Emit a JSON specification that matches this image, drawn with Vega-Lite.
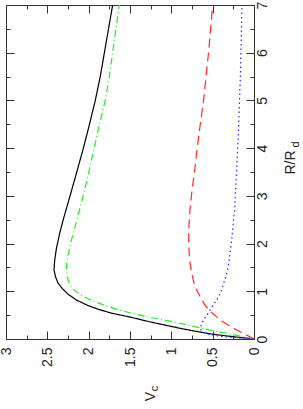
{
  "$schema": "https://vega.github.io/schema/vega-lite/v6.json",
  "width": 248,
  "height": 334,
  "autosize": "none",
  "padding": {"left": 6, "top": 5, "right": 49, "bottom": 70},
  "background": "white",
  "config": {
    "view": {"stroke": "#333333", "strokeWidth": 1},
    "axis": {"domain": false, "grid": false, "tickColor": "#333333", "tickWidth": 1,
      "labelFont": "Liberation Sans", "labelFontSize": 14, "labelColor": "#222222",
      "titleFont": "Liberation Sans", "titleFontSize": 14, "titleColor": "#222222", "titleFontWeight": "normal",
      "titleAngle": -90, "titleAlign": "center", "titleBaseline": "middle"}
  },
  "data": {"values": [
    {"series": "total", "R": 0, "V": 0},
    {"series": "total", "R": 0.05, "V": 0.26},
    {"series": "total", "R": 0.10, "V": 0.50},
    {"series": "total", "R": 0.16, "V": 0.70},
    {"series": "total", "R": 0.23, "V": 0.91},
    {"series": "total", "R": 0.30, "V": 1.10},
    {"series": "total", "R": 0.36, "V": 1.26},
    {"series": "total", "R": 0.46, "V": 1.50},
    {"series": "total", "R": 0.54, "V": 1.72},
    {"series": "total", "R": 0.62, "V": 1.88},
    {"series": "total", "R": 0.71, "V": 2.02},
    {"series": "total", "R": 0.82, "V": 2.15},
    {"series": "total", "R": 0.94, "V": 2.25},
    {"series": "total", "R": 1.06, "V": 2.32},
    {"series": "total", "R": 1.17, "V": 2.37},
    {"series": "total", "R": 1.30, "V": 2.40},
    {"series": "total", "R": 1.45, "V": 2.42},
    {"series": "total", "R": 1.66, "V": 2.41},
    {"series": "total", "R": 1.90, "V": 2.39},
    {"series": "total", "R": 2.22, "V": 2.35},
    {"series": "total", "R": 2.55, "V": 2.30},
    {"series": "total", "R": 2.91, "V": 2.24},
    {"series": "total", "R": 3.40, "V": 2.16},
    {"series": "total", "R": 3.96, "V": 2.07},
    {"series": "total", "R": 4.50, "V": 1.99},
    {"series": "total", "R": 5.00, "V": 1.92},
    {"series": "total", "R": 5.50, "V": 1.86},
    {"series": "total", "R": 6.00, "V": 1.81},
    {"series": "total", "R": 6.50, "V": 1.76},
    {"series": "total", "R": 7.00, "V": 1.71},
    {"series": "halo", "R": 0, "V": 0},
    {"series": "halo", "R": 0.08, "V": 0.22},
    {"series": "halo", "R": 0.17, "V": 0.49},
    {"series": "halo", "R": 0.25, "V": 0.69},
    {"series": "halo", "R": 0.33, "V": 0.90},
    {"series": "halo", "R": 0.44, "V": 1.22},
    {"series": "halo", "R": 0.54, "V": 1.48},
    {"series": "halo", "R": 0.62, "V": 1.66},
    {"series": "halo", "R": 0.70, "V": 1.80},
    {"series": "halo", "R": 0.82, "V": 1.98},
    {"series": "halo", "R": 0.92, "V": 2.10},
    {"series": "halo", "R": 1.03, "V": 2.18},
    {"series": "halo", "R": 1.15, "V": 2.23},
    {"series": "halo", "R": 1.30, "V": 2.26},
    {"series": "halo", "R": 1.50, "V": 2.27},
    {"series": "halo", "R": 1.66, "V": 2.26},
    {"series": "halo", "R": 2.00, "V": 2.22},
    {"series": "halo", "R": 2.45, "V": 2.15},
    {"series": "halo", "R": 2.91, "V": 2.08},
    {"series": "halo", "R": 3.40, "V": 2.01},
    {"series": "halo", "R": 3.96, "V": 1.94},
    {"series": "halo", "R": 4.50, "V": 1.87},
    {"series": "halo", "R": 5.00, "V": 1.80},
    {"series": "halo", "R": 5.50, "V": 1.75},
    {"series": "halo", "R": 6.00, "V": 1.71},
    {"series": "halo", "R": 6.50, "V": 1.67},
    {"series": "halo", "R": 7.00, "V": 1.63},
    {"series": "disk", "R": 0, "V": 0},
    {"series": "disk", "R": 0.10, "V": 0.11},
    {"series": "disk", "R": 0.19, "V": 0.21},
    {"series": "disk", "R": 0.30, "V": 0.32},
    {"series": "disk", "R": 0.40, "V": 0.41},
    {"series": "disk", "R": 0.55, "V": 0.51},
    {"series": "disk", "R": 0.70, "V": 0.59},
    {"series": "disk", "R": 0.88, "V": 0.65},
    {"series": "disk", "R": 1.05, "V": 0.70},
    {"series": "disk", "R": 1.20, "V": 0.73},
    {"series": "disk", "R": 1.45, "V": 0.76},
    {"series": "disk", "R": 1.66, "V": 0.78},
    {"series": "disk", "R": 2.00, "V": 0.79},
    {"series": "disk", "R": 2.29, "V": 0.79},
    {"series": "disk", "R": 2.70, "V": 0.775},
    {"series": "disk", "R": 3.12, "V": 0.75},
    {"series": "disk", "R": 3.50, "V": 0.72},
    {"series": "disk", "R": 3.96, "V": 0.69},
    {"series": "disk", "R": 4.50, "V": 0.65},
    {"series": "disk", "R": 5.00, "V": 0.61},
    {"series": "disk", "R": 5.50, "V": 0.58},
    {"series": "disk", "R": 6.00, "V": 0.55},
    {"series": "disk", "R": 6.50, "V": 0.525},
    {"series": "disk", "R": 7.00, "V": 0.50},
    {"series": "bulge", "R": 0, "V": 0},
    {"series": "bulge", "R": 0.03, "V": 0.25},
    {"series": "bulge", "R": 0.06, "V": 0.42},
    {"series": "bulge", "R": 0.10, "V": 0.55},
    {"series": "bulge", "R": 0.15, "V": 0.62},
    {"series": "bulge", "R": 0.21, "V": 0.65},
    {"series": "bulge", "R": 0.29, "V": 0.64},
    {"series": "bulge", "R": 0.40, "V": 0.61},
    {"series": "bulge", "R": 0.50, "V": 0.57},
    {"series": "bulge", "R": 0.61, "V": 0.53},
    {"series": "bulge", "R": 0.72, "V": 0.49},
    {"series": "bulge", "R": 0.82, "V": 0.45},
    {"series": "bulge", "R": 0.95, "V": 0.41},
    {"series": "bulge", "R": 1.09, "V": 0.38},
    {"series": "bulge", "R": 1.25, "V": 0.35},
    {"series": "bulge", "R": 1.45, "V": 0.32},
    {"series": "bulge", "R": 1.66, "V": 0.30},
    {"series": "bulge", "R": 2.08, "V": 0.27},
    {"series": "bulge", "R": 2.70, "V": 0.235},
    {"series": "bulge", "R": 3.54, "V": 0.21},
    {"series": "bulge", "R": 4.50, "V": 0.185},
    {"series": "bulge", "R": 5.50, "V": 0.165},
    {"series": "bulge", "R": 7.00, "V": 0.145}
  ]},
  "resolve": {"axis": {"x": "independent", "y": "independent"}},
  "layer": [
    {
      "mark": {"type": "line", "strokeWidth": 1.2},
      "encoding": {
        "x": {"field": "V", "type": "quantitative",
          "scale": {"domain": [0, 3], "reverse": true, "nice": false, "zero": false},
          "axis": {"orient": "bottom", "values": [0, 0.5, 1, 1.5, 2, 2.5, 3], "format": "~g",
            "tickSize": -8, "labelAngle": -90, "labelAlign": "right", "labelBaseline": "middle", "labelPadding": 16,
            "title": "V", "titleX": 144, "titleY": 57}},
        "y": {"field": "R", "type": "quantitative",
          "scale": {"domain": [0, 7], "nice": false, "zero": false},
          "axis": {"orient": "right", "values": [0, 1, 2, 3, 4, 5, 6, 7], "format": "~g",
            "tickSize": -8, "labelAngle": -90, "labelAlign": "center", "labelBaseline": "top", "labelPadding": 9,
            "title": "R/R", "titleX": 36, "titleY": 157}},
        "color": {"field": "series", "type": "nominal",
          "scale": {"domain": ["total", "halo", "disk", "bulge"], "range": ["#000000", "#22ee22", "#ff2a2a", "#2a2aff"]},
          "legend": null},
        "strokeDash": {"field": "series", "type": "nominal",
          "scale": {"domain": ["total", "halo", "disk", "bulge"], "range": [[1, 0], [7, 3, 1, 3], [9, 5], [1.5, 3]]},
          "legend": null},
        "order": {"field": "R", "type": "quantitative"}
      }
    },
    {
      "mark": {"type": "point", "opacity": 0},
      "encoding": {
        "x": {"field": "V", "type": "quantitative",
          "axis": {"orient": "bottom", "values": [0.25, 0.75, 1.25, 1.75, 2.25, 2.75], "labels": false, "tickSize": -4,
            "title": "c", "titleFontSize": 11, "titleX": 148, "titleY": 49}},
        "y": {"field": "R", "type": "quantitative",
          "axis": {"orient": "right", "values": [0.5, 1.5, 2.5, 3.5, 4.5, 5.5, 6.5], "labels": false, "tickSize": -4,
            "title": "d", "titleFontSize": 11, "titleX": 41, "titleY": 139}}
      }
    },
    {
      "mark": {"type": "point", "opacity": 0},
      "encoding": {
        "x": {"field": "V", "type": "quantitative",
          "axis": {"orient": "top", "values": [0, 0.5, 1, 1.5, 2, 2.5, 3], "labels": false, "tickSize": -8, "title": null}},
        "y": {"field": "R", "type": "quantitative",
          "axis": {"orient": "left", "values": [0, 1, 2, 3, 4, 5, 6, 7], "labels": false, "tickSize": -8, "title": null}}
      }
    },
    {
      "mark": {"type": "point", "opacity": 0},
      "encoding": {
        "x": {"field": "V", "type": "quantitative",
          "axis": {"orient": "top", "values": [0.25, 0.75, 1.25, 1.75, 2.25, 2.75], "labels": false, "tickSize": -4, "title": null}},
        "y": {"field": "R", "type": "quantitative",
          "axis": {"orient": "left", "values": [0.5, 1.5, 2.5, 3.5, 4.5, 5.5, 6.5], "labels": false, "tickSize": -4, "title": null}}
      }
    }
  ]
}
